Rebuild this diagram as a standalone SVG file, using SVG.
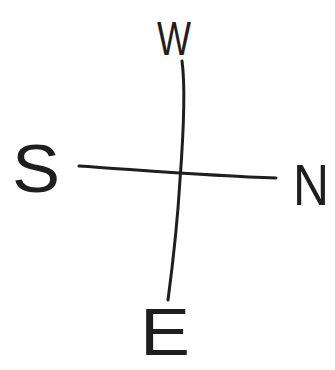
<svg xmlns="http://www.w3.org/2000/svg" width="335" height="370" viewBox="0 0 335 370">
<style>
.l{font-family:"Liberation Sans",Arial,sans-serif;fill:#1e1e1e}
.c{fill:none;stroke:#1e1e1e;stroke-width:3;stroke-linecap:round}
</style>
<rect width="335" height="370" fill="#fff"/>
<g id="connectors">
<path class="c" d="M182,61 C186,90 183,140 180,180 C177,230 172,270 168,300"/>
<path class="c" d="M79,166 C140,170 210,176 276,178"/>
</g>
<g id="W"><text class="l" x="174" y="55" font-size="49" text-anchor="middle" textLength="34" lengthAdjust="spacingAndGlyphs">W</text></g>
<g id="S"><text class="l" x="36" y="192" font-size="68" text-anchor="middle" textLength="48" lengthAdjust="spacingAndGlyphs">S</text></g>
<g id="N"><text class="l" x="311" y="205" font-size="58" text-anchor="middle" textLength="36" lengthAdjust="spacingAndGlyphs">N</text></g>
<g id="E"><text class="l" x="165" y="355" font-size="66" text-anchor="middle" textLength="50" lengthAdjust="spacingAndGlyphs">E</text></g>
</svg>
